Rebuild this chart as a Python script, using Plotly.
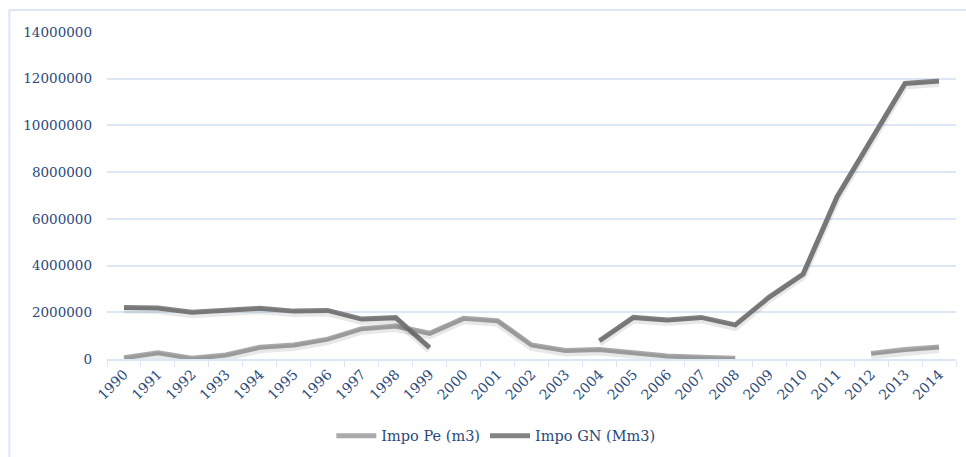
import plotly.graph_objects as go

# Annual import series, 1990-2014 (None = no data reported)
years = [str(y) for y in range(1990, 2015)]
impo_pe = [50000, 270000, 30000, 170000, 500000, 600000, 850000, 1300000, 1410000, 1100000,
           1740000, 1640000, 600000, 360000, 410000, 270000, 130000, 70000, 30000,
           None, None, None, 240000, 410000, 510000]
impo_gn = [2200000, 2180000, 2000000, 2080000, 2170000, 2050000, 2080000, 1710000, 1770000, 490000,
           None, None, None, None, 780000, 1780000, 1670000, 1780000, 1460000,
           2650000, 3640000, 6950000, 9380000, 11800000, 11900000]
y_ticks = list(range(0, 14000001, 2000000))

TEXT = "#2A4A7C"
GRID = "#DCE6F4"
FONT = "DejaVu Serif"
Y_MAX = 14000000
PLOT_H = 457 - 32 - 98
SHADOW_SHIFT = 2.5 * Y_MAX / PLOT_H  # shadow sits ~2.5px below its line

fig = go.Figure()

# soft drop shadow under each line, drawn on an overlaid, slightly shifted axis
for vals in (impo_pe, impo_gn):
    fig.add_trace(go.Scatter(
        x=years, y=vals, mode="lines", showlegend=False, hoverinfo="skip",
        yaxis="y2", line=dict(color="rgba(0,0,0,0.09)", width=7),
    ))

fig.add_trace(go.Scatter(
    x=years, y=impo_pe, mode="lines", name="Impo Pe (m3)",
    line=dict(color="#AAAAAA", width=5),
))
fig.add_trace(go.Scatter(
    x=years, y=impo_gn, mode="lines", name="Impo GN (Mm3)",
    line=dict(color="#838383", width=5),
))

fig.update_layout(
    width=966, height=457,
    margin=dict(l=107, r=10, t=32, b=98, autoexpand=False),
    paper_bgcolor="white", plot_bgcolor="white",
    font=dict(family=FONT, color=TEXT, size=14),
    legend=dict(orientation="h", x=0.458, xanchor="center", y=-0.235, yanchor="middle",
                font=dict(family=FONT, size=14.5, color=TEXT), itemwidth=40,
                traceorder="normal"),
    shapes=[dict(type="rect", xref="paper", yref="paper",
                 x0=-0.115, x1=1.2, y0=-0.5, y1=1.067,
                 line=dict(color=GRID, width=2), layer="below")],
    yaxis2=dict(overlaying="y", range=[SHADOW_SHIFT, Y_MAX + SHADOW_SHIFT],
                visible=False, showgrid=False),
)
fig.update_xaxes(
    type="category", range=[-0.5, len(years) - 0.5], automargin=False,
    tickangle=-45, tickson="boundaries",
    ticks="outside", ticklen=6, tickcolor=GRID,
    showline=True, linecolor=GRID, linewidth=1.5, showgrid=False,
    tickfont=dict(family=FONT, size=14, color=TEXT),
)
fig.update_yaxes(
    selector=dict(anchor="x"),
    range=[0, Y_MAX], tickvals=y_ticks, ticktext=[str(v) for v in y_ticks],
    automargin=False,
    showgrid=True, gridcolor=GRID, gridwidth=1.5, zeroline=False,
    ticklabelstandoff=14,
    tickfont=dict(family=FONT, size=13.5, color=TEXT),
)
fig.layout.yaxis.update(
    range=[0, Y_MAX], tickvals=y_ticks, ticktext=[str(v) for v in y_ticks],
    automargin=False,
    showgrid=True, gridcolor=GRID, gridwidth=1.5, zeroline=False,
    ticklabelstandoff=14,
    tickfont=dict(family=FONT, size=13.5, color=TEXT),
)

fig.write_html("out.html")
